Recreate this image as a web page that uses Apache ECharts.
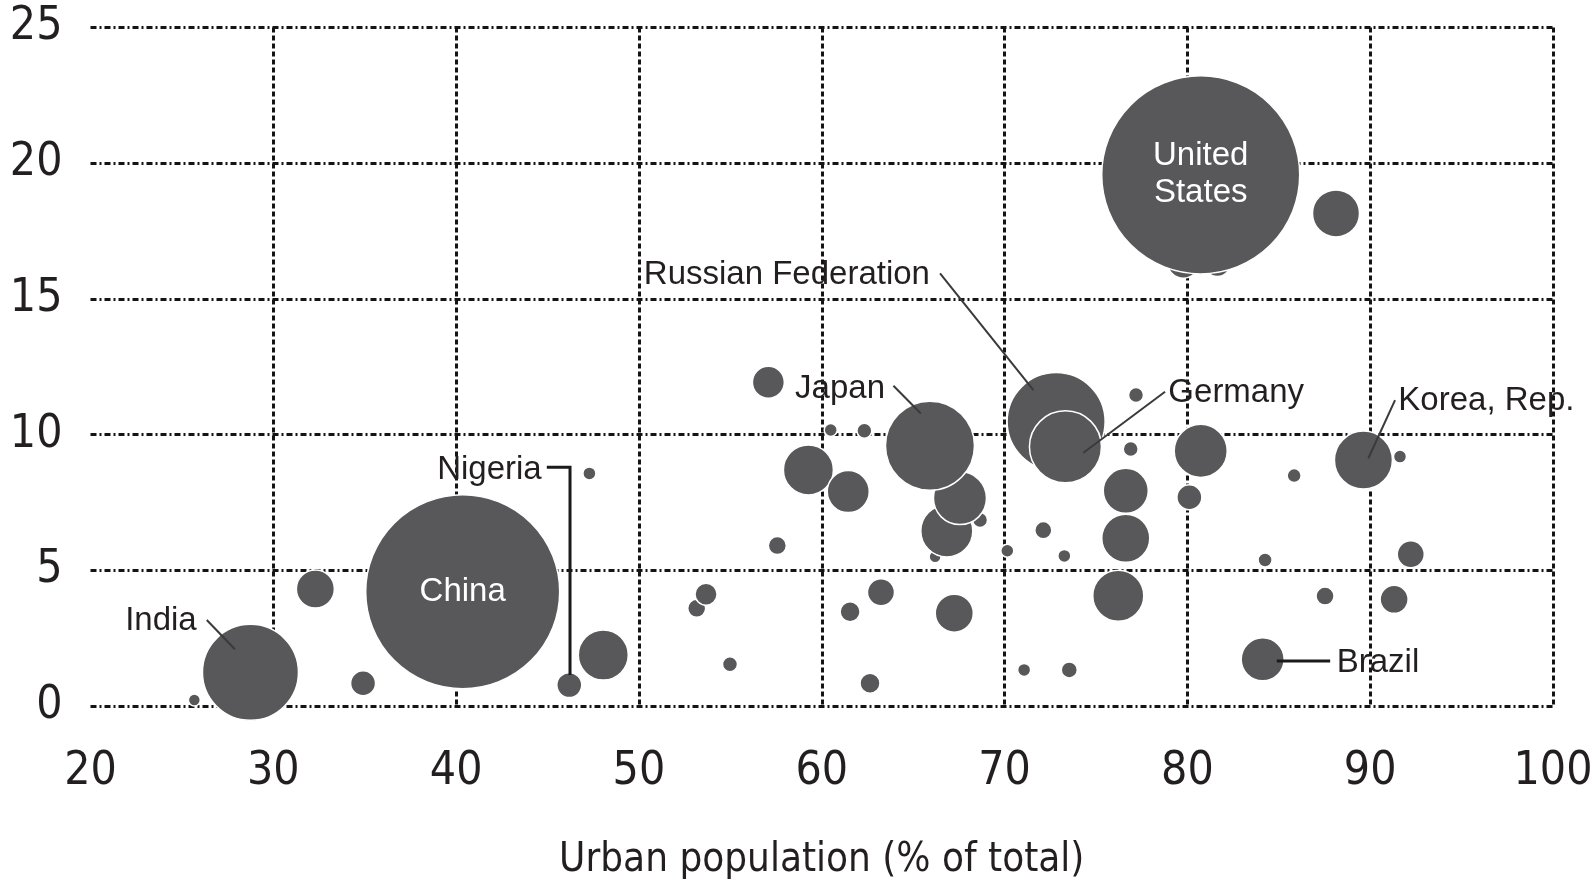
<!DOCTYPE html>
<html>
<head>
<meta charset="utf-8">
<script src="https://cdn.jsdelivr.net/npm/echarts@6/dist/echarts.min.js"></script>
<style>
html,body{margin:0;padding:0;background:#fff;}
#chart{width:1595px;height:879px;}
</style>
</head>
<body>
<div id="chart"></div>
<script>
// ---- Data ----
const urbanPct = [25.68, 28.75, 32.3, 34.91, 40.36, 46.19, 47.29, 48.05, 53.16, 53.67,
  54.98, 57.08, 57.57, 59.27, 60.49, 61.45, 61.55, 62.33, 62.64, 63.24,
  66.2, 68.66, 66.84, 67.56, 65.92, 67.25, 70.15, 72.82, 73.33, 71.07,
  72.12, 73.27, 73.54, 77.19, 76.9, 76.63, 76.63, 76.22, 80.11, 80.73,
  79.78, 81.64, 80.73, 88.13, 84.12, 84.25, 85.84, 87.53, 89.63, 91.63,
  91.31, 92.22];
const perCapita = [0.22, 1.24, 4.31, 0.84, 4.21, 0.77, 8.57, 1.88, 3.6, 4.12,
  1.54, 11.93, 5.91, 8.7, 10.17, 7.9, 3.47, 10.14, 0.84, 4.19,
  5.5, 6.85, 6.45, 7.66, 9.59, 3.42, 5.72, 10.48, 9.55, 1.33,
  6.48, 5.53, 1.33, 11.46, 9.47, 7.93, 6.18, 4.06, 7.69, 9.4,
  16.35, 16.3, 19.57, 18.15, 1.72, 5.38, 8.49, 4.05, 9.06, 9.19,
  3.93, 5.59];
const totalSize = [21, 1363, 214, 92, 5567, 92, 25, 370, 48, 72,
  33, 151, 48, 370, 25, 261, 59, 33, 59, 108,
  21, 33, 400, 416, 1172, 214, 25, 1421, 767, 25,
  43, 25, 38, 33, 33, 300, 341, 385, 92, 416,
  150, 100, 5800, 327, 274, 29, 29, 48, 498, 25,
  116, 108];
const countryNames = ['', 'India', '', '', 'China', 'Nigeria', '', '', '', '',
  '', '', '', '', '', '', '', '', '', '',
  '', '', '', '', 'Japan', '', '', 'Russian Federation', 'Germany', '',
  '', '', '', '', '', '', '', '', '', '',
  '', '', 'United States', '', 'Brazil', '', '', '', 'Korea, Rep.', '',
  '', ''];
const xTicks = [20, 30, 40, 50, 60, 70, 80, 90, 100];
const yTicks = [0, 5, 10, 15, 20, 25];
const xTitle = 'Urban population (% of total)';

// ---- Layout / style ----
const TICK_FONT = '"DejaVu Sans Condensed", "Liberation Sans Narrow", "Liberation Sans", sans-serif';
const LABEL_FONT = '"Liberation Sans", Arial, sans-serif';
const BUBBLE = '#58585a';
const TEXT = '#231f20';
const GRID_COLOR = '#141414';

// annotation layout (label anchor + connector path, in data units)
const annotations = [
  {name: 'India', at: [25.81, 3.23], align: 'right', path: [[26.36, 3.17], [27.9, 2.09]], heavy: false},
  {name: 'Nigeria', at: [44.68, 8.82], align: 'right', path: [[44.96, 8.8], [46.23, 8.8], [46.23, 1.14]], heavy: true},
  {name: 'Russian Federation', at: [65.92, 16.0], align: 'right', path: [[66.47, 15.94], [71.58, 11.64]], heavy: false},
  {name: 'Japan', at: [63.46, 11.8], align: 'right', path: [[63.92, 11.8], [65.42, 10.78]], heavy: false},
  {name: 'Germany', at: [78.96, 11.64], align: 'left', path: [[78.78, 11.58], [74.31, 9.33]], heavy: false},
  {name: 'Korea, Rep.', at: [91.54, 11.37], align: 'left', path: [[91.36, 11.27], [89.9, 9.13]], heavy: false},
  {name: 'Brazil', at: [88.17, 1.69], align: 'left', path: [[84.89, 1.66], [87.81, 1.66]], heavy: true}
];
const insideLabels = {'China': 'China', 'United States': 'United\nStates'};

const chart = echarts.init(document.getElementById('chart'), null, {renderer: 'canvas'});

const seriesData = urbanPct.map((x, i) => {
  const item = {value: [x, perCapita[i], totalSize[i]], name: countryNames[i]};
  if (insideLabels[countryNames[i]]) {
    item.label = {
      show: true, position: 'inside', formatter: insideLabels[countryNames[i]],
      color: '#ffffff', fontSize: 33, lineHeight: 37, fontFamily: LABEL_FONT
    };
  }
  return item;
});

chart.setOption({
  animation: false,
  backgroundColor: '#ffffff',
  grid: {left: 90.5, right: 42, top: 27.5, bottom: 173, containLabel: false, outerBoundsMode: 'none'},
  xAxis: {
    type: 'value', min: xTicks[0], max: xTicks[xTicks.length - 1], interval: 10,
    axisLine: {show: false}, axisTick: {show: false},
    axisLabel: {color: TEXT, fontSize: 46, fontFamily: TICK_FONT, margin: 43},
    splitLine: {show: true, showMinLine: false, showMaxLine: true,
      lineStyle: {color: GRID_COLOR, width: 3, type: [5, 3]}},
    name: xTitle, nameLocation: 'middle', nameGap: 135,
    nameTextStyle: {color: TEXT, fontSize: 40, fontFamily: TICK_FONT}
  },
  yAxis: {
    type: 'value', min: yTicks[0], max: yTicks[yTicks.length - 1], interval: 5,
    axisLine: {show: false}, axisTick: {show: false},
    axisLabel: {color: TEXT, fontSize: 46, fontFamily: TICK_FONT, margin: 28},
    splitLine: {show: true, lineStyle: {color: GRID_COLOR, width: 3, type: [6, 3, 2, 3]}}
  },
  series: [{
    type: 'scatter',
    data: seriesData,
    symbol: 'circle',
    symbolSize: v => 2.6 * Math.sqrt(v[2]),
    itemStyle: {color: BUBBLE, borderColor: '#ffffff', borderWidth: 1.5, opacity: 1},
    emphasis: {disabled: true},
    z: 3
  }]
});

// annotations placed through the chart's own coordinate system
const toPx = p => chart.convertToPixel({gridIndex: 0}, p);
const graphics = [];
annotations.forEach(a => {
  graphics.push({
    type: 'polyline', z: 10,
    shape: {points: a.path.map(toPx)},
    style: {stroke: a.heavy ? '#1a1a1a' : '#3a3a3a', lineWidth: a.heavy ? 3 : 2, fill: null}
  });
  const p = toPx(a.at);
  graphics.push({
    type: 'text', z: 10, x: p[0], y: p[1] + 3,
    style: {text: a.name, font: '33px ' + LABEL_FONT, fill: TEXT,
      align: a.align, textAlign: a.align, verticalAlign: 'middle', textVerticalAlign: 'middle'}
  });
});
chart.setOption({graphic: graphics});
</script>
</body>
</html>
